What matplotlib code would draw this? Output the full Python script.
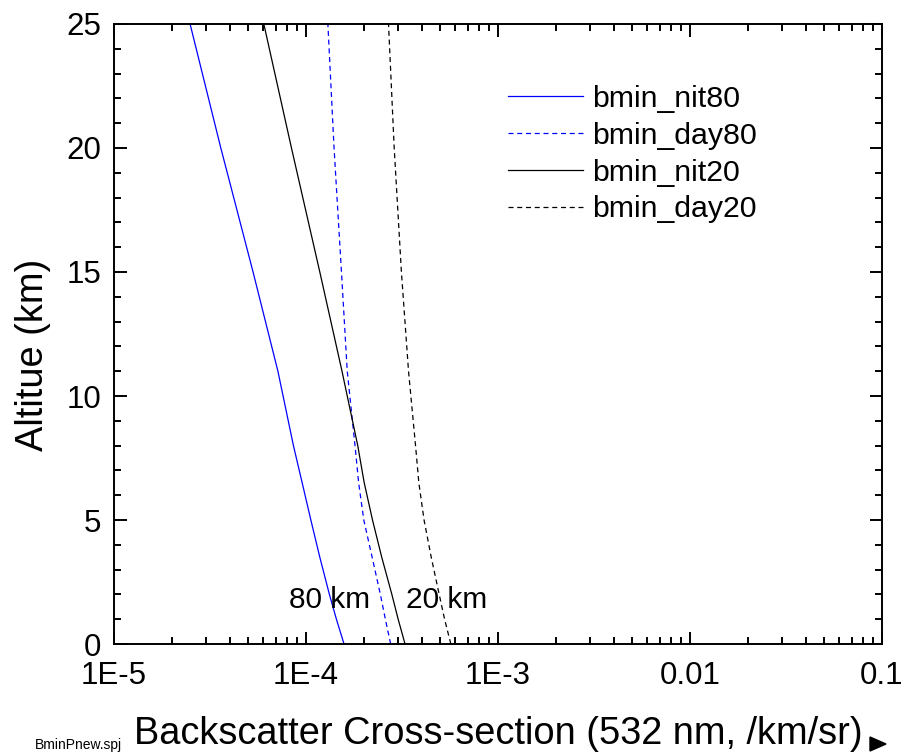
import matplotlib
matplotlib.use("Agg")
import matplotlib.pyplot as plt
from matplotlib.patches import Polygon

plt.rcParams['font.family'] = ['Liberation Sans', 'DejaVu Sans']

# altitude grid (km) and minimum detectable backscatter (/km/sr)
alt = [0, 1, 2, 3.5, 5, 6.5, 8, 11, 15, 20, 25]
bmin_nit80 = [1.578e-4, 1.44e-4, 1.324e-4, 1.18e-4, 1.06e-4, 9.55e-5, 8.6e-5, 7.14e-5, 5.3e-5, 3.6e-5, 2.49e-5]
bmin_day80 = [2.76e-4, 2.59e-4, 2.44e-4, 2.21e-4, 2.00e-4, 1.88e-4, 1.80e-4, 1.64e-4, 1.53e-4, 1.40e-4, 1.30e-4]
bmin_nit20 = [3.28e-4, 3.02e-4, 2.80e-4, 2.48e-4, 2.22e-4, 2.01e-4, 1.86e-4, 1.54e-4, 1.18e-4, 8.40e-5, 6.03e-5]
bmin_day20 = [5.68e-4, 5.27e-4, 4.94e-4, 4.49e-4, 4.12e-4, 3.87e-4, 3.72e-4, 3.42e-4, 3.14e-4, 2.88e-4, 2.69e-4]

xticks = [1e-5, 1e-4, 1e-3, 1e-2, 1e-1]
xticklabels = ['1E-5', '1E-4', '1E-3', '0.01', '0.1']
yticks = [0, 5, 10, 15, 20, 25]

fig = plt.figure(figsize=(9.02, 7.52), dpi=100)
ax = fig.add_axes([0.1264, 0.1436, 0.8514, 0.8245])

ax.plot(bmin_nit80, alt, color='#0000ff', lw=0.9, label='bmin_nit80')
ax.plot(bmin_day80, alt, color='#0000ff', lw=0.9, ls=(0, (4, 3)), label='bmin_day80')
ax.plot(bmin_nit20, alt, color='black', lw=0.9, label='bmin_nit20')
ax.plot(bmin_day20, alt, color='black', lw=0.9, ls=(0, (4, 3)), label='bmin_day20')

ax.set_xscale('log')
ax.set_xlim(1e-5, 1e-1)
ax.set_ylim(0, 25)
ax.set_xticks(xticks)
ax.set_xticklabels(xticklabels)
ax.set_yticks(yticks)
ax.set_yticks(range(0, 26), minor=True)

for s in ax.spines.values():
    s.set_linewidth(1.4)
ax.tick_params(which='both', direction='in', top=True, right=True, width=1.4)
ax.tick_params(which='major', length=9, labelsize=22.5)
ax.tick_params(axis='x', which='major', pad=12.5)
ax.tick_params(axis='y', which='major', pad=9)
ax.tick_params(which='minor', length=5)

ax.set_xlabel('Backscatter Cross-section (532 nm, /km/sr)', fontsize=27.4)
ax.set_ylabel('Altitue (km)', fontsize=27.4)
ax.xaxis.set_label_coords(0.5, -0.116)
ax.yaxis.set_label_coords(-0.082, 0.466)

ax.text(1.33e-4, 1.77, '80 km', fontsize=21.5, ha='center', va='center')
ax.text(5.42e-4, 1.77, '20 km', fontsize=21.5, ha='center', va='center')

ax.legend(loc='upper left', bbox_to_anchor=(0.497, 0.921), frameon=False,
          fontsize=21.8, handlelength=2.5, handletextpad=0.3,
          labelspacing=0.29, borderaxespad=0)

fig.patches.append(Polygon([[870, 15], [870, 1], [886, 8]], closed=True,
                           transform=None, color='black'))
fig.text(35 / 902, 0.0, 'BminPnew.spj', fontsize=10, ha='left', va='bottom')

fig.savefig('out.png', dpi=100)
